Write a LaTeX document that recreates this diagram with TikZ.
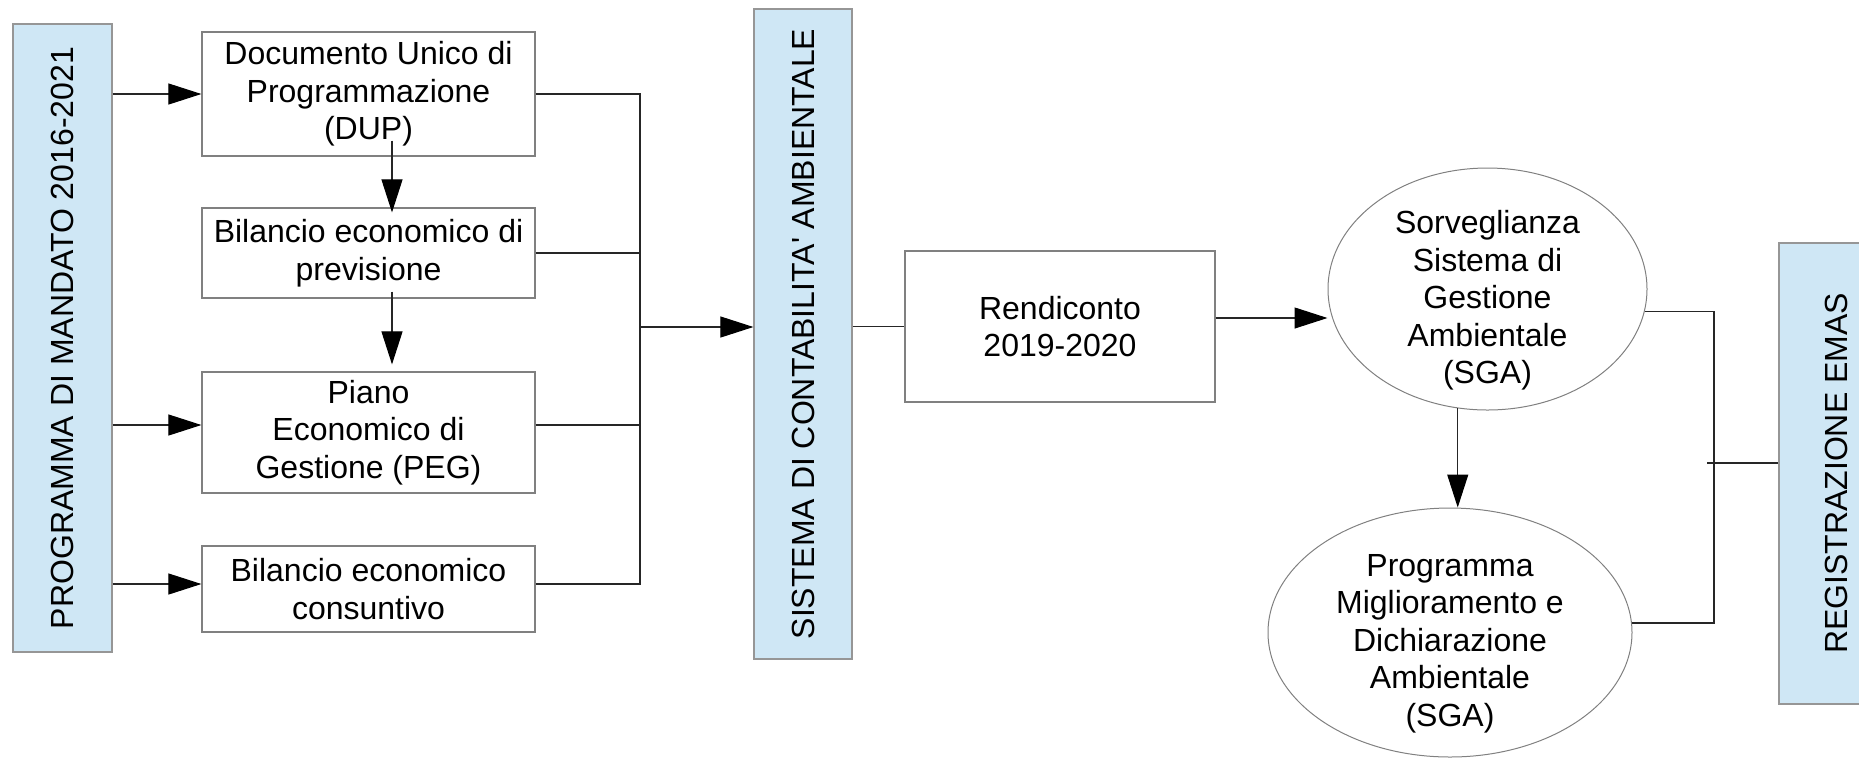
\documentclass[tikz,border=0pt]{standalone}
\usepackage{fontspec}
\newfontfamily\diagfont{Liberation Sans}
\usetikzlibrary{shapes.geometric,positioning,arrows.meta,calc}

\definecolor{bandblue}{RGB}{207,231,245}
\definecolor{bandline}{RGB}{150,150,150}
\definecolor{boxline}{RGB}{128,128,128}

\tikzset{
  box/.style={draw=boxline, line width=0.6pt, align=center, inner sep=2pt},
  band/.style={draw=bandline, fill=bandblue, line width=0.6pt, rotate=90, inner sep=0pt},
  oval/.style={ellipse, draw=boxline, line width=0.5pt, align=center, inner sep=-10pt},
  link/.style={draw=black!85, line width=0.55pt},
  arr/.style={link, -{Triangle[length=16.5pt,width=10.5pt,color=black]}},
}

\begin{document}
\begin{tikzpicture}[x=0.5pt, y=-0.5pt, every node/.style={font=\diagfont\fontsize{16}{18.75}\selectfont}]
\useasboundingbox (0,0) rectangle (1859,757);

% blue bands
\node[band, minimum width=314pt, minimum height=49.5pt] (mandato) at (62.5,338) {PROGRAMMA DI MANDATO 2016-2021};
\node[band, minimum width=325pt, minimum height=49pt] (sistema) at (803,334) {SISTEMA DI CONTABILITA' AMBIENTALE};
\node[band, minimum width=230.5pt, minimum height=57pt] (emas) at (1836,473.5) {REGISTRAZIONE EMAS};

% boxes
\node[box, minimum width=166.5pt, minimum height=62pt] (dup) at (368.5,94) {Documento Unico di\\Programmazione\\(DUP)};
\node[box, minimum width=166.5pt, minimum height=45pt] (bilprev) at (368.5,253) {Bilancio economico di\\previsione};
\node[box, minimum width=166.5pt, minimum height=60.5pt] (peg) at (368.5,432.5) {Piano\\Economico di\\Gestione (PEG)};
\node[box, minimum width=166.5pt, minimum height=43pt] (cons) at (368.5,589) {Bilancio economico\\consuntivo};
\node[box, minimum width=155pt, minimum height=75.5pt] (rend) at (1060,326.5) {Rendiconto\\2019-2020};

% ellipses
\node[oval, minimum width=159.5pt, minimum height=121pt] (sorv) at (1487.5,289) {\rule{0pt}{23pt}Sorveglianza\\Sistema di\\Gestione\\Ambientale\\(SGA)};
\node[oval, minimum width=182pt, minimum height=124.5pt] (progm) at (1450,632.5) {\rule{0pt}{22pt}Programma\\Miglioramento e\\Dichiarazione\\Ambientale\\(SGA)};

\coordinate (bus) at (640,327);
\coordinate (bar) at (1714,463);

% connectors
\draw[arr] (mandato.south |- dup.west) -- (dup.west);
\draw[arr] ([yshift=3.75pt]mandato.south |- peg.west) -- ([yshift=3.75pt]peg.west);
\draw[arr] ([yshift=2.5pt]mandato.south |- cons.west) -- ([yshift=2.5pt]cons.west);
\draw[arr] ([xshift=11.75pt,yshift=8pt]dup.south) -- ([xshift=11.75pt,yshift=-2.5pt]bilprev.north);
\draw[arr] ([xshift=11.75pt,yshift=3.5pt]bilprev.south) -- ([xshift=11.75pt,yshift=3.5pt]peg.north);

\draw[link] (dup.east) -| (bus);
\draw[link] (bilprev.east) -| (bus);
\draw[link] ([yshift=3.75pt]peg.east) -| (bus);
\draw[link] ([yshift=2.5pt]cons.east) -| (bus);
\draw[arr] (bus) -- (bus -| sistema.north);

\draw[link] (sistema.south |- rend.west) -- (rend.west);
\draw[arr] ([yshift=4.25pt]rend.east) -- ([yshift=4.25pt]rend.east -| sorv.west);
\draw[arr] (sorv.-104) -- (sorv.-104 |- progm.north);

\draw[link] (sorv.-8) -| (bar) |- (progm.3);
\draw[link] ([xshift=-3.5pt]bar) -- (bar -| emas.north);
\end{tikzpicture}
\end{document}
